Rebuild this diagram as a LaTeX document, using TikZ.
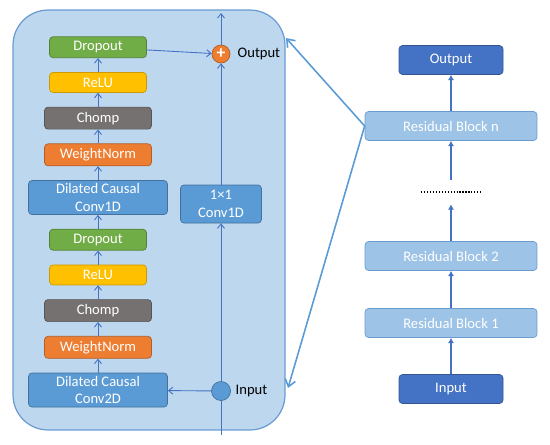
\documentclass[tikz,border=0pt]{standalone}
\usepackage{fontspec}
\setmainfont{Carlito}
\usetikzlibrary{arrows.meta,positioning}

\definecolor{panelfill}{HTML}{BDD7EE}
\definecolor{paneledge}{HTML}{6A9BD1}
\definecolor{convblue}{HTML}{5B9BD5}
\definecolor{convedge}{HTML}{41719C}
\definecolor{dropgreen}{HTML}{70AD47}
\definecolor{reluyellow}{HTML}{FFC000}
\definecolor{chompgray}{HTML}{767171}
\definecolor{normorange}{HTML}{ED7D31}
\definecolor{stageblue}{HTML}{4472C4}
\definecolor{blocklight}{HTML}{9DC3E6}
\definecolor{flowblue}{HTML}{4472C4}

\begin{document}
\begin{tikzpicture}[
  x=0.02cm, y=-0.02cm,
  node distance=0.28cm,
  txt/.style={font=\fontsize{8.3}{10}\selectfont},
  layer/.style={txt, draw, rounded corners=2pt, align=center, text=white,
                inner sep=0pt, minimum height=0.42cm},
  conv/.style={layer, fill=convblue, draw=convedge},
  stage/.style={layer, fill=stageblue, draw=stageblue!75!black,
                minimum width=2.08cm, minimum height=0.58cm},
  resblock/.style={layer, fill=blocklight, draw=paneledge,
                   minimum width=3.44cm, minimum height=0.58cm},
  arr/.style={-{Straight Barb[length=2.5pt,width=4pt]}, flowblue, line width=0.5pt},
  bigarr/.style={-{Latex[length=3pt,width=3.5pt]}, flowblue, line width=1.3pt},
  link/.style={-{Straight Barb[length=4pt,width=6pt]}, convblue, line width=0.9pt}
]
\useasboundingbox (0,0) rectangle (550,444);

% residual block, expanded
\node[draw=paneledge, fill=panelfill, rounded corners=0.7cm, line width=0.7pt,
      minimum width=5.44cm, minimum height=8.4cm] (panel) at (149,220) {};

\node[conv, minimum width=2.78cm, minimum height=0.68cm] (dconvA) at (98,390) {Dilated Causal\\Conv2D};
\node[layer, fill=normorange, draw=normorange!75!black, minimum width=2.14cm, minimum height=0.44cm, above=of dconvA] (wnA) {WeightNorm};
\node[layer, fill=chompgray, draw=chompgray!75!black, minimum width=2.14cm, minimum height=0.44cm, above=of wnA] (chompA) {Chomp};
\node[layer, fill=reluyellow, draw=reluyellow!80!black, minimum width=1.94cm, minimum height=0.4cm, above=of chompA] (reluA) {ReLU};
\node[layer, fill=dropgreen, draw=dropgreen!75!black, minimum width=1.94cm, above=of reluA] (dropA) {Dropout};
\node[conv, minimum width=2.78cm, minimum height=0.68cm, above=of dropA] (dconvB) {Dilated Causal\\Conv1D};
\node[layer, fill=normorange, draw=normorange!75!black, minimum width=2.14cm, minimum height=0.44cm, above=of dconvB] (wnB) {WeightNorm};
\node[layer, fill=chompgray, draw=chompgray!75!black, minimum width=2.14cm, minimum height=0.44cm, above=of wnB] (chompB) {Chomp};
\node[layer, fill=reluyellow, draw=reluyellow!80!black, minimum width=1.94cm, minimum height=0.4cm, above=of chompB] (reluB) {ReLU};
\node[layer, fill=dropgreen, draw=dropgreen!75!black, minimum width=1.94cm, above=of reluB] (dropB) {Dropout};

\node[conv, minimum width=1.62cm, minimum height=0.76cm] (onebyone) at (221,204) {1×1\\Conv1D};
\node[circle, fill=normorange, draw=normorange!75!black, text=white, inner sep=0pt,
      minimum size=0.36cm, font=\bfseries] (sum) at (221,54) {+};
\node[circle, fill=convblue, draw=convedge, inner sep=0pt, minimum size=0.38cm] (inp) at (221,391) {};
\node[txt, right=0.14cm of sum, inner sep=0pt] (outlbl) {Output};
\node[txt, right=0.09cm of inp, inner sep=0pt] (inlbl) {Input};
\coordinate (inEnd) at (221,435);
\coordinate (outEnd) at (221,13);

\draw[flowblue, line width=0.5pt] (inEnd) -- (inp);
\draw[arr] (inp) -- (onebyone);
\draw[arr] (onebyone) -- (sum);
\draw[arr] (sum) -- (outEnd);
\draw[arr] (inp) -- (dconvA);
\draw[arr] (dconvA) -- (wnA);
\draw[arr] (wnA) -- (chompA);
\draw[arr] (chompA) -- (reluA);
\draw[arr] (reluA) -- (dropA);
\draw[arr] (dropA) -- (dconvB);
\draw[arr] (dconvB) -- (wnB);
\draw[arr] (wnB) -- (chompB);
\draw[arr] (chompB) -- (reluB);
\draw[arr] (reluB) -- (dropB);
\draw[arr] (dropB) -- (sum);

% stack of blocks
\node[stage] (tcnOut) at (451,60) {Output};
\node[resblock] (rbn) at (451,126) {Residual Block n};
\node[inner sep=0pt, minimum width=1.2cm, minimum height=0.48cm] (dots) at (451,192) {};
\node[resblock] (rb2) at (451,256) {Residual Block 2};
\node[resblock] (rb1) at (451,323) {Residual Block 1};
\node[stage] (tcnIn) at (451,389) {Input};
\draw[line width=0.7pt, dash pattern=on 0.6pt off 1.1pt] (dots.west) -- (dots.east);

\draw[bigarr] (tcnIn) -- (rb1);
\draw[bigarr] (rb1) -- (rb2);
\draw[bigarr] (rb2) -- (dots);
\draw[bigarr] (dots) -- (rbn);
\draw[bigarr] (rbn) -- (tcnOut);

\coordinate (tipTop) at (286,38);
\coordinate (tipBot) at (288,388);
\draw[link] (rbn.west) -- (tipTop);
\draw[link] (rbn.west) -- (tipBot);
\end{tikzpicture}
\end{document}
